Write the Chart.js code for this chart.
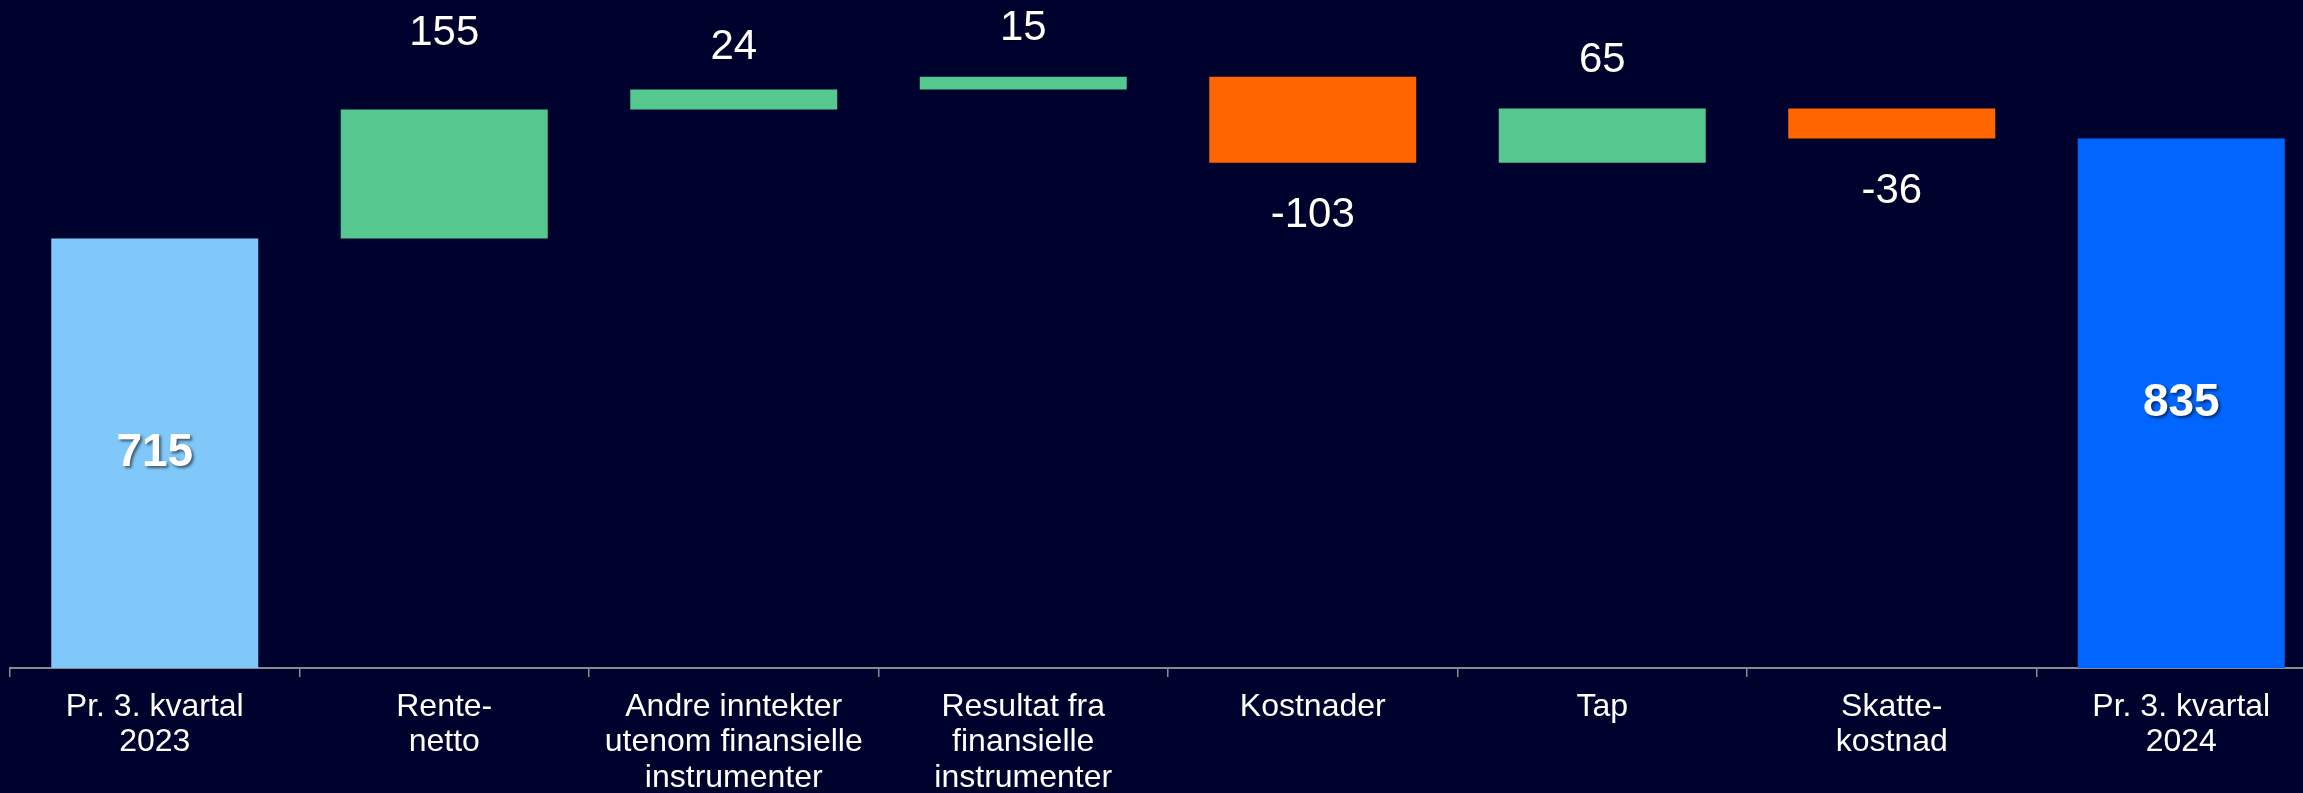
<!DOCTYPE html>
<html>
  <head>
    <title>Resultat pr. 3. kvartal</title>
    <meta charset="utf-8">
    <style>
      html, body { margin: 0; padding: 0; background: #00022e; overflow: hidden; }
      #wrap { position: relative; width: 2340px; height: 793px; }
    </style>
  </head>
  <body>
    <div id="wrap">
      <canvas id="waterfallChart"></canvas>
    </div>

    <script src="https://cdn.jsdelivr.net/npm/chart.js"></script>
    <script>
      // Data
      var categories = [
        ['Pr. 3. kvartal', '2023'],
        ['Rente-', 'netto'],
        ['Andre inntekter', 'utenom finansielle', 'instrumenter'],
        ['Resultat fra', 'finansielle', 'instrumenter'],
        ['Kostnader'],
        ['Tap'],
        ['Skatte-', 'kostnad'],
        ['Pr. 3. kvartal', '2024']
      ];
      var startTotal = 715;
      var changes = [155, 24, 15, -103, 65, -36];
      var endTotal = 835;

      var colors = {
        start: '#80c8f9',
        end: '#0066ff',
        up: '#55c88f',
        down: '#ff6600'
      };

      // distance (px) of the change labels from their bar, a few sit further out
      var labelGap = { up: 48, down: 53 };
      var labelGapOverride = { 1: 76, 2: 42 };

      // build floating bars
      var bars = [[0, startTotal]];
      var barColors = [colors.start];
      var labels = [String(startTotal)];
      var running = startTotal;
      changes.forEach(function (d) {
        bars.push([running, running + d]);
        barColors.push(d >= 0 ? colors.up : colors.down);
        labels.push(String(d));
        running += d;
      });
      bars.push([0, endTotal]);
      barColors.push(colors.end);
      labels.push(String(endTotal));

      var valueLabels = {
        id: 'valueLabels',
        afterDatasetsDraw: function (chart) {
          var ctx = chart.ctx;
          var area = chart.chartArea;
          var meta = chart.getDatasetMeta(0);
          ctx.save();
          ctx.textAlign = 'center';
          ctx.textBaseline = 'middle';
          meta.data.forEach(function (bar, i) {
            var top = Math.min(bar.y, bar.base);
            var bottom = Math.max(bar.y, bar.base);
            if (i === 0 || i === meta.data.length - 1) {
              ctx.font = 'bold 46px "Liberation Sans", Arial, sans-serif';
              ctx.fillStyle = '#ffffff';
              ctx.shadowColor = 'rgba(0, 0, 0, 0.55)';
              ctx.shadowOffsetX = 2;
              ctx.shadowOffsetY = 2;
              ctx.shadowBlur = 3;
              ctx.fillText(labels[i], bar.x, (top + Math.min(bottom, area.bottom)) / 2);
            } else {
              ctx.font = '42px "Liberation Sans", Arial, sans-serif';
              ctx.fillStyle = '#ffffff';
              ctx.shadowColor = 'rgba(0, 0, 0, 0.4)';
              ctx.shadowOffsetX = 1;
              ctx.shadowOffsetY = 1;
              ctx.shadowBlur = 2;
              var d = changes[i - 1];
              var gap = labelGapOverride[i] || (d >= 0 ? labelGap.up : labelGap.down);
              var y = d >= 0 ? top - gap : bottom + gap;
              ctx.fillText(labels[i], bar.x, y);
            }
          });
          ctx.restore();
        }
      };

      var config = {
        type: 'bar',
        data: {
          labels: categories,
          datasets: [{
            data: bars,
            backgroundColor: barColors,
            borderWidth: 0,
            barPercentage: 0.715,
            categoryPercentage: 1.0
          }]
        },
        options: {
          responsive: false,
          animation: false,
          layout: {
            padding: { left: 10, right: 14, top: 1, bottom: 0 }
          },
          scales: {
            x: {
              grid: {
                display: true,
                offset: true,
                drawOnChartArea: false,
                drawTicks: true,
                tickLength: 9,
                color: '#8a8a8a',
                lineWidth: 1.5
              },
              border: { display: true, color: '#8a8a8a', width: 2 },
              ticks: {
                color: '#ffffff',
                padding: 12,
                maxRotation: 0,
                autoSkip: false,
                font: { family: '"Liberation Sans", Arial, sans-serif', size: 32, lineHeight: 1.11 }
              },
              afterFit: function (scale) { scale.height = 125; }
            },
            y: {
              display: false,
              min: 200,
              max: 1000
            }
          },
          plugins: {
            legend: { display: false },
            tooltip: { enabled: false }
          }
        },
        plugins: [valueLabels]
      };

      var canvas = document.getElementById('waterfallChart');
      canvas.width = 2340;
      canvas.height = 793;
      var waterfallChart = new Chart(canvas, config);
    </script>
  </body>
</html>
